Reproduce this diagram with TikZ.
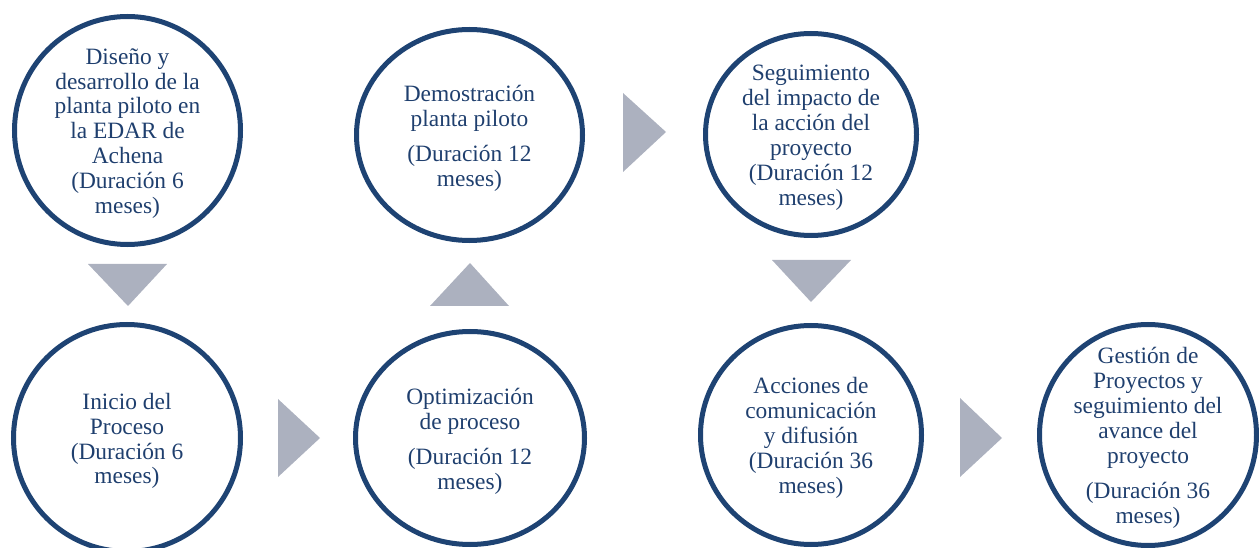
\documentclass[tikz,border=0pt]{standalone}
\usepackage{fontspec}
\setmainfont{Liberation Serif}
\usetikzlibrary{shapes.geometric}
\definecolor{ringblue}{RGB}{30,67,115}
\definecolor{textblue}{RGB}{31,63,110}
\definecolor{arrowgray}{RGB}{172,177,191}
\begin{document}
\begin{tikzpicture}[x=1bp,y=-1bp,
  ring/.style={ellipse,draw=ringblue,line width=5bp,inner sep=0pt},
  txt/.style={align=center,text=textblue,font=\fontsize{23.5}{25}\selectfont,inner sep=0pt,yshift=-3bp},
  tri/.style={fill=arrowgray}]
\useasboundingbox (0,0) rectangle (1259,548);
\clip (0,0) rectangle (1259,548);
\node[ring,minimum width=226bp,minimum height=228bp] (dise) at (127.5,130.5) {};
\node[ring,minimum width=227bp,minimum height=227bp] (inic) at (127,438) {};
\node[ring,minimum width=226bp,minimum height=211bp] (demo) at (469.5,135) {};
\node[ring,minimum width=229bp,minimum height=213bp] (opti) at (470,438) {};
\node[ring,minimum width=211bp,minimum height=202bp] (segu) at (811,134.5) {};
\node[ring,minimum width=221bp,minimum height=219bp] (acci) at (811,435) {};
\node[ring,minimum width=217bp,minimum height=221bp] (gest) at (1148,435) {};
\node[txt] (diseT) at (dise) {Diseño y\\desarrollo de la\\planta piloto en\\la EDAR de\\Achena\\(Duración 6\\meses)};
\node[txt] (inicT) at (inic) {Inicio del\\Proceso\\(Duración 6\\meses)};
\node[txt] (demoT) at (demo) {Demostración\\planta piloto\\[10bp](Duración 12\\meses)};
\node[txt] (optiT) at (opti) {Optimización\\de proceso\\[10bp](Duración 12\\meses)};
\node[txt] (seguT) at (segu) {Seguimiento\\del impacto de\\la acción del\\proyecto\\(Duración 12\\meses)};
\node[txt] (acciT) at (acci) {Acciones de\\comunicación\\y difusión\\(Duración 36\\meses)};
\node[txt] (gestT) at (gest) {Gestión de\\Proyectos y\\seguimiento del\\avance del\\proyecto\\[10bp](Duración 36\\meses)};
\foreach \a/\b/\c in {{(88,264)}/{(167,264)}/{(128,306)},
                      {(278,399)}/{(278,477)}/{(320,438)},
                      {(430,306)}/{(509,306)}/{(470,263)},
                      {(623,93)}/{(623,172)}/{(666,132)},
                      {(772,260)}/{(851,260)}/{(811,302)},
                      {(960,398)}/{(960,477)}/{(1002,438)}} {
  \fill[tri] \a -- \b -- \c -- cycle;
}
\end{tikzpicture}
\end{document}
